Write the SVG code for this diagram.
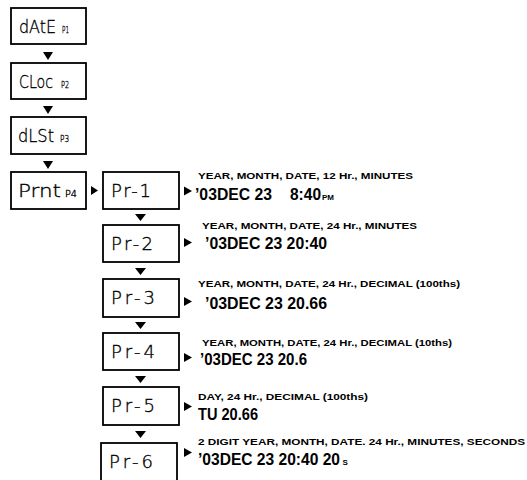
<svg xmlns="http://www.w3.org/2000/svg" width="527" height="480" viewBox="0 0 527 480">
<style>
.box{fill:#fff;stroke:#000;stroke-width:1.8}
.lcd{font-family:"DejaVu Sans","Liberation Mono",monospace;font-weight:200;font-size:18px;fill:#000;stroke:#000;stroke-width:0.35}
.sm{font-family:"DejaVu Sans","Liberation Mono",monospace;font-weight:200;font-size:8px;fill:#000;stroke:#000;stroke-width:0.3}
.lbl{font-family:"Liberation Sans",Arial,sans-serif;font-weight:bold;font-size:8.6px;fill:#000}
.val{font-family:"Liberation Sans",Arial,sans-serif;font-weight:bold;font-size:16.5px;fill:#000}
.vs{font-size:8px}
.tri{fill:#000}
</style>
<rect width="527" height="480" fill="#fff"/>
<g id="connectors">
<polygon class="tri" points="43,52 53,52 48,60"/>
<polygon class="tri" points="43,106 53,106 48,114"/>
<polygon class="tri" points="43,161 53,161 48,169"/>
<polygon class="tri" points="91,186 91,195 98,190.5"/>
<polygon class="tri" points="135,214 146,214 140.5,221"/>
<polygon class="tri" points="135,268 146,268 140.5,275"/>
<polygon class="tri" points="135,322 146,322 140.5,329"/>
<polygon class="tri" points="135,376 146,376 140.5,383"/>
<polygon class="tri" points="135,431 146,431 140.5,438"/>
<polygon class="tri" points="184,186.5 184,195.5 192,191"/>
<polygon class="tri" points="184,238 184,247 192,242.5"/>
<polygon class="tri" points="184,297 184,306 192,301.5"/>
<polygon class="tri" points="184,353 184,362 192,357.5"/>
<polygon class="tri" points="184,402 184,411 192,406.5"/>
<polygon class="tri" points="184,448 184,457 192,452.5"/>
</g>
<g id="date">
<rect class="box" x="11" y="8" width="75" height="36"/>
<text class="lcd" x="19" y="33" textLength="37" lengthAdjust="spacingAndGlyphs">dAtE</text>
<text class="sm" x="62" y="33" textLength="7" lengthAdjust="spacingAndGlyphs">P1</text>
</g>
<g id="cloc">
<rect class="box" x="11" y="63" width="75" height="36"/>
<text class="lcd" x="19" y="88" textLength="34" lengthAdjust="spacingAndGlyphs">CLoc</text>
<text class="sm" x="61" y="88" textLength="8" lengthAdjust="spacingAndGlyphs">P2</text>
</g>
<g id="dlst">
<rect class="box" x="11" y="117" width="75" height="37"/>
<text class="lcd" x="18" y="142" textLength="36" lengthAdjust="spacingAndGlyphs">dLSt</text>
<text class="sm" x="60" y="142" textLength="9" lengthAdjust="spacingAndGlyphs">P3</text>
</g>
<g id="prnt">
<rect class="box" x="11" y="172" width="75" height="37"/>
<text class="lcd" x="18" y="197" textLength="43" lengthAdjust="spacingAndGlyphs">Prnt</text>
<text class="sm" x="65" y="197" textLength="12" lengthAdjust="spacingAndGlyphs">P4</text>
</g>
<g id="pr1">
<rect class="box" x="103" y="172" width="76" height="37"/>
<text class="lcd" x="111" y="197" textLength="40" lengthAdjust="spacing">Pr-1</text>
<text class="lbl" x="198" y="179" textLength="215" lengthAdjust="spacingAndGlyphs">YEAR, MONTH, DATE, 12 Hr., MINUTES</text>
<text class="val" x="195" y="200" textLength="77" lengthAdjust="spacingAndGlyphs">’03DEC 23</text>
<text class="val" x="290" y="200"><tspan textLength="31" lengthAdjust="spacingAndGlyphs">8:40</tspan><tspan class="vs" dx="1">PM</tspan></text>
</g>
<g id="pr2">
<rect class="box" x="103" y="225" width="76" height="37"/>
<text class="lcd" x="111" y="250" textLength="42" lengthAdjust="spacing">Pr-2</text>
<text class="lbl" x="202" y="228.5" textLength="215" lengthAdjust="spacingAndGlyphs">YEAR, MONTH, DATE, 24 Hr., MINUTES</text>
<text class="val" x="205" y="248.5" textLength="122" lengthAdjust="spacingAndGlyphs">’03DEC 23 20:40</text>
</g>
<g id="pr3">
<rect class="box" x="103" y="279" width="76" height="38"/>
<text class="lcd" x="111" y="304" textLength="44" lengthAdjust="spacing">Pr-3</text>
<text class="lbl" x="198" y="286.5" textLength="262" lengthAdjust="spacingAndGlyphs">YEAR, MONTH, DATE, 24 Hr., DECIMAL (100ths)</text>
<text class="val" x="205" y="308.5" textLength="122" lengthAdjust="spacingAndGlyphs">’03DEC 23 20.66</text>
</g>
<g id="pr4">
<rect class="box" x="103" y="333" width="76" height="37"/>
<text class="lcd" x="111" y="358" textLength="44" lengthAdjust="spacing">Pr-4</text>
<text class="lbl" x="202" y="346" textLength="250" lengthAdjust="spacingAndGlyphs">YEAR, MONTH, DATE, 24 Hr., DECIMAL (10ths)</text>
<text class="val" x="200" y="365" textLength="107" lengthAdjust="spacingAndGlyphs">’03DEC 23 20.6</text>
</g>
<g id="pr5">
<rect class="box" x="103" y="387" width="76" height="38"/>
<text class="lcd" x="111" y="412" textLength="44" lengthAdjust="spacing">Pr-5</text>
<text class="lbl" x="198" y="400" textLength="170" lengthAdjust="spacingAndGlyphs">DAY, 24 Hr., DECIMAL (100ths)</text>
<text class="val" x="198" y="420" textLength="60" lengthAdjust="spacingAndGlyphs">TU 20.66</text>
</g>
<g id="pr6">
<rect class="box" x="101" y="443" width="76" height="38"/>
<text class="lcd" x="109" y="468" textLength="44" lengthAdjust="spacing">Pr-6</text>
<text class="lbl" x="198" y="445" textLength="327" lengthAdjust="spacingAndGlyphs">2 DIGIT YEAR, MONTH, DATE. 24 Hr., MINUTES, SECONDS</text>
<text class="val" x="198" y="465"><tspan textLength="142" lengthAdjust="spacingAndGlyphs">’03DEC 23 20:40 20</tspan><tspan class="vs" dx="2.5">S</tspan></text>
</g>
</svg>
